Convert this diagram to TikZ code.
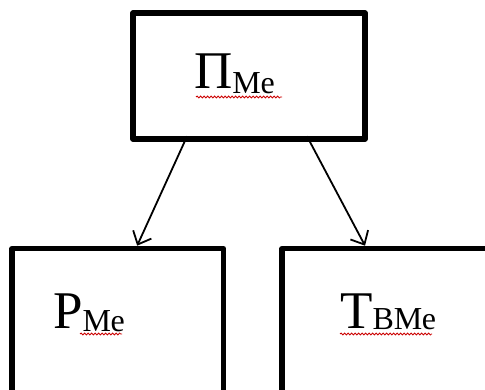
\documentclass[tikz,border=0pt]{standalone}
\usepackage{fontspec}
\setmainfont{Liberation Serif}
\usetikzlibrary{arrows.meta,decorations.pathmorphing,calc}
\tikzset{
  box/.style={draw=black,line width=5.5pt,line join=round,fill=white,outer sep=0pt,inner sep=0pt},
  conn/.style={line width=1.8pt,-{Straight Barb[length=11pt,width=20pt,line width=1.8pt]}},
  lbl/.style={anchor=base west,inner sep=0pt,text=black},
  wavy/.style={draw=red!80!black,line width=0.8pt,decorate,decoration={snake,amplitude=1pt,segment length=3.5pt}}
}
\newcommand{\mainsz}{\fontsize{53}{60}\selectfont}
\newcommand{\subsz}{\fontsize{32}{36}\selectfont}
\begin{document}
\begin{tikzpicture}[x=1pt,y=-1pt]
\useasboundingbox (0,0) rectangle (485,390);
\clip (0,0) rectangle (485,390);
% boxes
\node[box,minimum width=232pt,minimum height=126pt] (top) at (249,76) {};
\node[box,minimum width=211.4pt,minimum height=200pt,anchor=north west] (left) at (12,248.7) {};
\node[box,minimum width=230pt,minimum height=200pt,anchor=north west] (right) at (282,248.7) {};
% labels
\node[lbl] (tp) at (194,89) {\mainsz П\raisebox{-5pt}{\subsz Ме}};
\node[lbl] (lp) at (53,329) {\mainsz Р\raisebox{-2pt}{\subsz Ме}};
\node[lbl] (rp) at (340,329) {\mainsz Т\raisebox{-1pt}{\subsz ВМе}};
% wavy underlines
\draw[wavy] (196,97) -- (282,97);
\draw[wavy] (80,334) -- (122,334);
\draw[wavy] (340,334) -- (432,334);
% connectors
\coordinate (s1) at ($(top.south west)!0.233!(top.south east)+(0,-2.7)$);
\coordinate (s2) at ($(top.south west)!0.750!(top.south east)+(0,-2.7)$);
\coordinate (e1) at ($(left.north west)!0.592!(left.north east)+(0,-3)$);
\coordinate (e2) at ($(right.north west)!0.361!(right.north east)+(0,-3)$);
\draw[conn] (s1) -- (e1);
\draw[conn] (s2) -- (e2);
\end{tikzpicture}
\end{document}
